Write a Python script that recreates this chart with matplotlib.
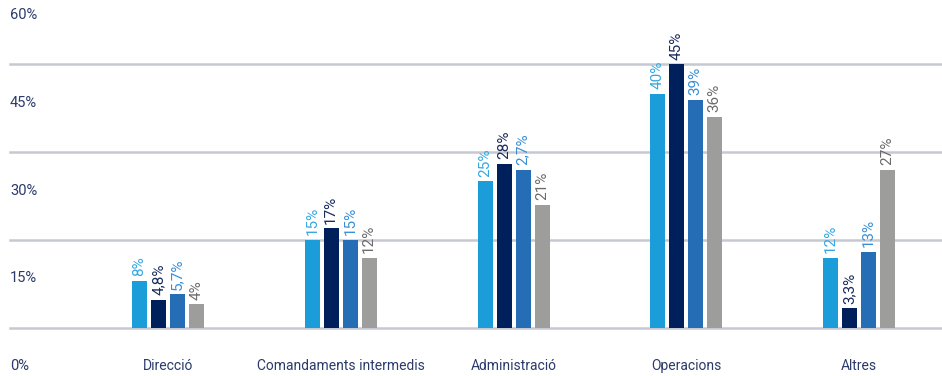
import numpy as np
import matplotlib.pyplot as plt

categories = ['Direcció', 'Comandaments intermedis', 'Administració', 'Operacions', 'Altres']
serie_1 = [8, 15, 25, 40, 12]
serie_2 = [4.8, 17, 28, 45, 3.3]
serie_3 = [5.7, 15, 27, 39, 13]
serie_4 = [4, 12, 21, 36, 27]
labels_1 = ['8%', '15%', '25%', '40%', '12%']
labels_2 = ['4,8%', '17%', '28%', '45%', '3,3%']
labels_3 = ['5,7%', '15%', '2,7%', '39%', '13%']
labels_4 = ['4%', '12%', '21%', '36%', '27%']
yticks = [0, 15, 30, 45, 60]

plt.rcParams['font.family'] = ['Roboto', 'DejaVu Sans']

bar_colors = ['#1b9dd9', '#00205b', '#256db5', '#9d9d9c']
text_colors = ['#35a8e0', '#1a2b5c', '#3a8fd6', '#6b6b6b']
series = [serie_1, serie_2, serie_3, serie_4]
labels = [labels_1, labels_2, labels_3, labels_4]

W, H = 942, 376
fig = plt.figure(figsize=(W / 100, H / 100), dpi=100)
ax = fig.add_axes([0, 0, 1, 1])

# pixel geometry
px_per_pct = 5.85
base_px = 48.3           # baseline distance from bottom
x0_px, step_px = 168, 172.75
ax.set_ylim(-base_px / px_per_pct, (H - base_px) / px_per_pct)
ax.set_xlim(-x0_px / step_px, (W - x0_px) / step_px)
ax.axis('off')

for v in [0, 15, 30, 45]:
    ax.axhline(v, xmin=10 / W, xmax=1, color='#c6c8d2', lw=1.8, zorder=0)

bw = 15 / step_px
gap = 19 / step_px
x = np.arange(len(categories))
for i, (vals, labs) in enumerate(zip(series, labels)):
    xs = x + (i - 1.5) * gap
    ax.bar(xs, vals, width=bw, color=bar_colors[i], zorder=2)
    for xi, v, lab in zip(xs, vals, labs):
        ax.text(xi, v + 0.8, lab, rotation=90, ha='center', va='bottom',
                fontsize=11, color=text_colors[i])

off = 6.55
for v in yticks:
    ax.text(10 / step_px - x0_px / step_px, v - off, f'{v}%', ha='left', va='center',
            fontsize=10.5, color='#2b3a6b')

for xi, c in zip(x, categories):
    ax.text(xi, -off, c, ha='center', va='center', fontsize=10, color='#2b3a6b')

fig.savefig('out.png', dpi=100)
